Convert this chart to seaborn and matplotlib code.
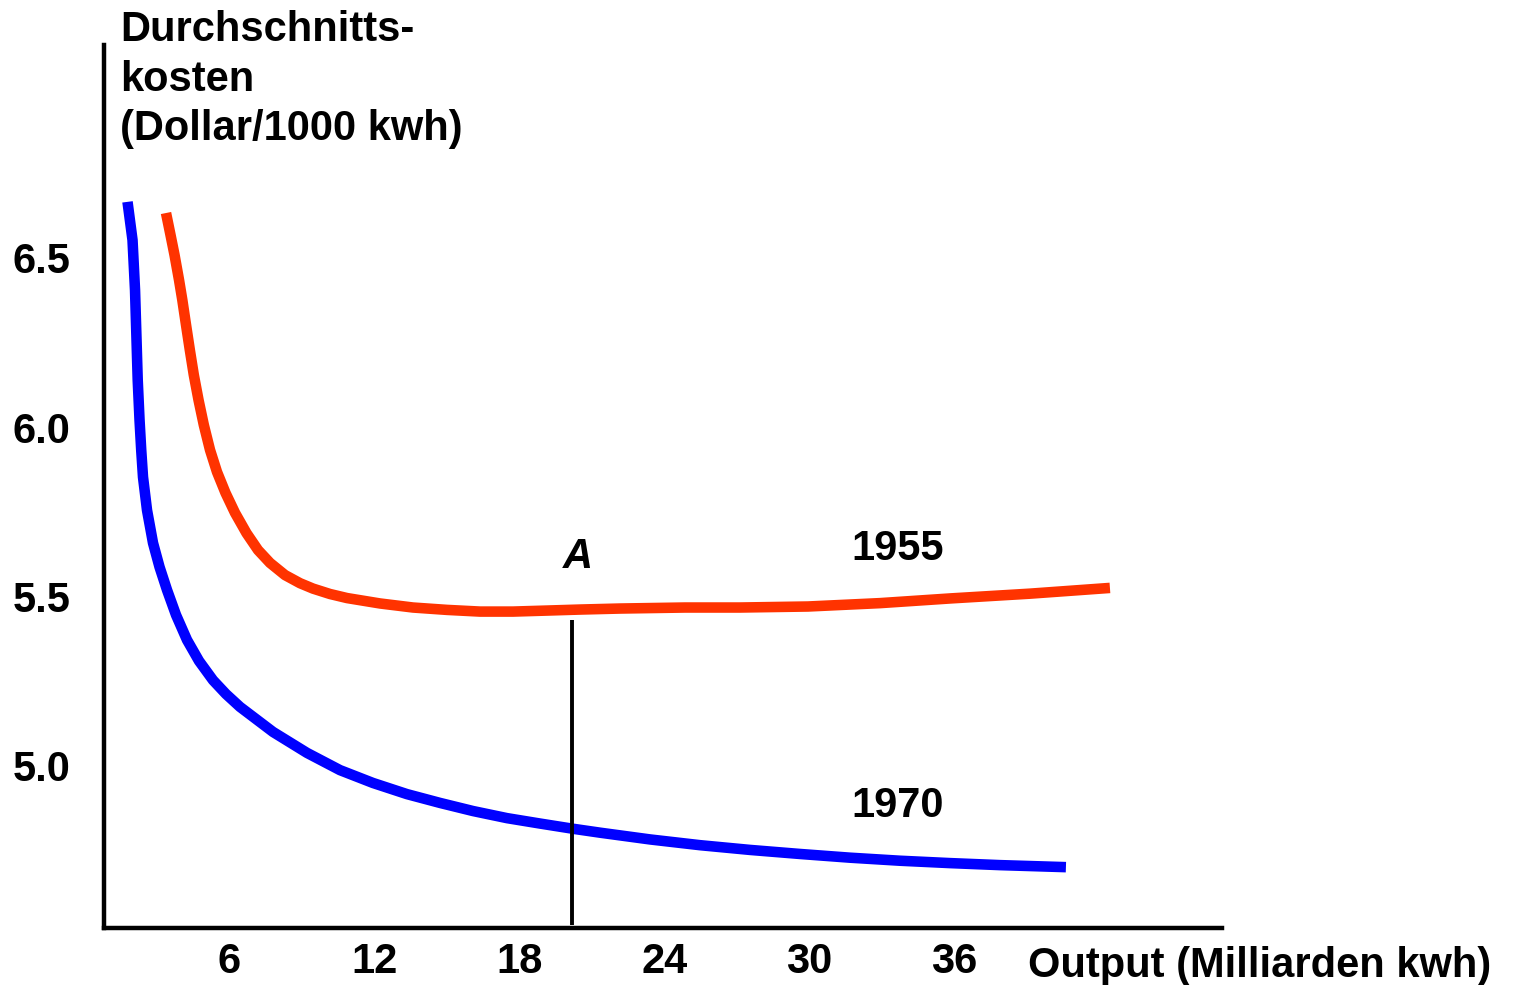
import numpy as np
import pandas as pd
import matplotlib
matplotlib.use("Agg")
import matplotlib.pyplot as plt
import seaborn as sns

# average cost curves (output in bn kwh, cost in $/1000 kwh)
output_1970 = [1.783, 1.990, 2.094, 2.156, 2.205, 2.280, 2.350, 2.424, 2.590, 2.838,
               3.107, 3.417, 3.790, 4.245, 4.741, 5.321, 5.859, 6.438, 7.803, 9.210,
               10.575, 11.940, 13.347, 14.713, 16.078, 17.484, 18.850, 20.174, 21.332,
               23.401, 25.470, 27.538, 29.607, 31.676, 33.744, 35.813, 37.882, 40.612]
cost_1970 = [6.666, 6.553, 6.405, 6.257, 6.139, 6.021, 5.932, 5.852, 5.754, 5.657,
             5.586, 5.518, 5.444, 5.370, 5.308, 5.251, 5.210, 5.172, 5.098, 5.036,
             4.985, 4.947, 4.914, 4.888, 4.864, 4.843, 4.827, 4.812, 4.800,
             4.780, 4.763, 4.749, 4.737, 4.726, 4.717, 4.710, 4.704, 4.698]

output_1955 = [3.376, 3.562, 3.728, 3.914, 4.050, 4.204, 4.361, 4.526, 4.721, 4.940,
               5.197, 5.486, 5.838, 6.231, 6.707, 7.183, 7.679, 8.300, 8.920, 9.458,
               10.161, 10.865, 12.230, 13.595, 15.002, 16.367, 17.733, 19.139, 20.505,
               22.160, 24.849, 27.125, 29.938, 32.917, 35.854, 39.123, 42.433]
cost_1955 = [6.633, 6.568, 6.509, 6.435, 6.376, 6.302, 6.228, 6.154, 6.080, 6.006,
             5.932, 5.867, 5.805, 5.746, 5.686, 5.636, 5.598, 5.562, 5.538, 5.522,
             5.506, 5.494, 5.478, 5.466, 5.459, 5.454, 5.454, 5.457, 5.460,
             5.463, 5.466, 5.466, 5.469, 5.479, 5.493, 5.507, 5.524]

x_ticks = [6, 12, 18, 24, 30, 36]
y_ticks = [5.0, 5.5, 6.0, 6.5]
x_tick_labels = ["6", "12", "18", "24", "30", "36"]
y_tick_labels = ["5.0", "5.5", "6.0", "6.5"]

point_a_output = 20.17
point_a_cost = 5.43

sns.set_style("white")
plt.rcParams['font.family'] = ['Liberation Sans', 'DejaVu Sans']
plt.rcParams['text.color'] = 'black'
plt.rcParams['xtick.color'] = 'black'
plt.rcParams['ytick.color'] = 'black'

fig = plt.figure(figsize=(15.16, 9.85), dpi=100)
ax = fig.add_axes([104 / 1516, 1 - 928 / 985, 1118 / 1516, 883 / 985])

df70 = pd.DataFrame({"output": output_1970, "cost": cost_1970})
df55 = pd.DataFrame({"output": output_1955, "cost": cost_1955})
sns.lineplot(data=df70, x="output", y="cost", sort=False, color="#0000FF",
             linewidth=7.6, ax=ax, solid_capstyle="butt", solid_joinstyle="round")
sns.lineplot(data=df55, x="output", y="cost", sort=False, color="#FF3300",
             linewidth=7.6, ax=ax, solid_capstyle="butt", solid_joinstyle="round")

ax.vlines(point_a_output, 4.527, point_a_cost, color="black", linewidth=2.8)

ax.set_xlim(0.81, 47.07)
ax.set_ylim(4.518, 7.130)
ax.set_xticks(x_ticks)
ax.set_xticklabels(x_tick_labels)
ax.set_yticks(y_ticks)
ax.set_yticklabels(y_tick_labels)
ax.tick_params(length=0, labelsize=30, labelcolor="black")
ax.tick_params(axis="y", pad=24)
ax.tick_params(axis="x", pad=10)
for lab in ax.get_xticklabels() + ax.get_yticklabels():
    lab.set_fontweight("bold")
ax.set_xlabel("")
ax.set_ylabel("")

for side in ["top", "right"]:
    ax.spines[side].set_visible(False)
for side in ["left", "bottom"]:
    ax.spines[side].set_linewidth(3.2)
    ax.spines[side].set_color("black")

ax.text(0.0143, 0.8924, "Durchschnitts-\nkosten\n(Dollar/1000 kwh)", transform=ax.transAxes,
        fontsize=30, fontweight="bold", ha="left", va="baseline", linespacing=1.3,
        color="black")
ax.text(0.8265, -0.0555, "Output (Milliarden kwh)", transform=ax.transAxes,
        fontsize=30, fontweight="bold", ha="left", va="baseline", clip_on=False,
        color="black")

ax.text(20.42, 5.583, "A", fontsize=30, fontweight="bold", fontstyle="italic",
        ha="center", va="baseline", color="black")
ax.text(31.72, 5.607, "1955", fontsize=30, fontweight="bold", ha="left", va="baseline",
        color="black")
ax.text(31.72, 4.846, "1970", fontsize=30, fontweight="bold", ha="left", va="baseline",
        color="black")

fig.savefig("out.png", dpi=100, facecolor="white")
